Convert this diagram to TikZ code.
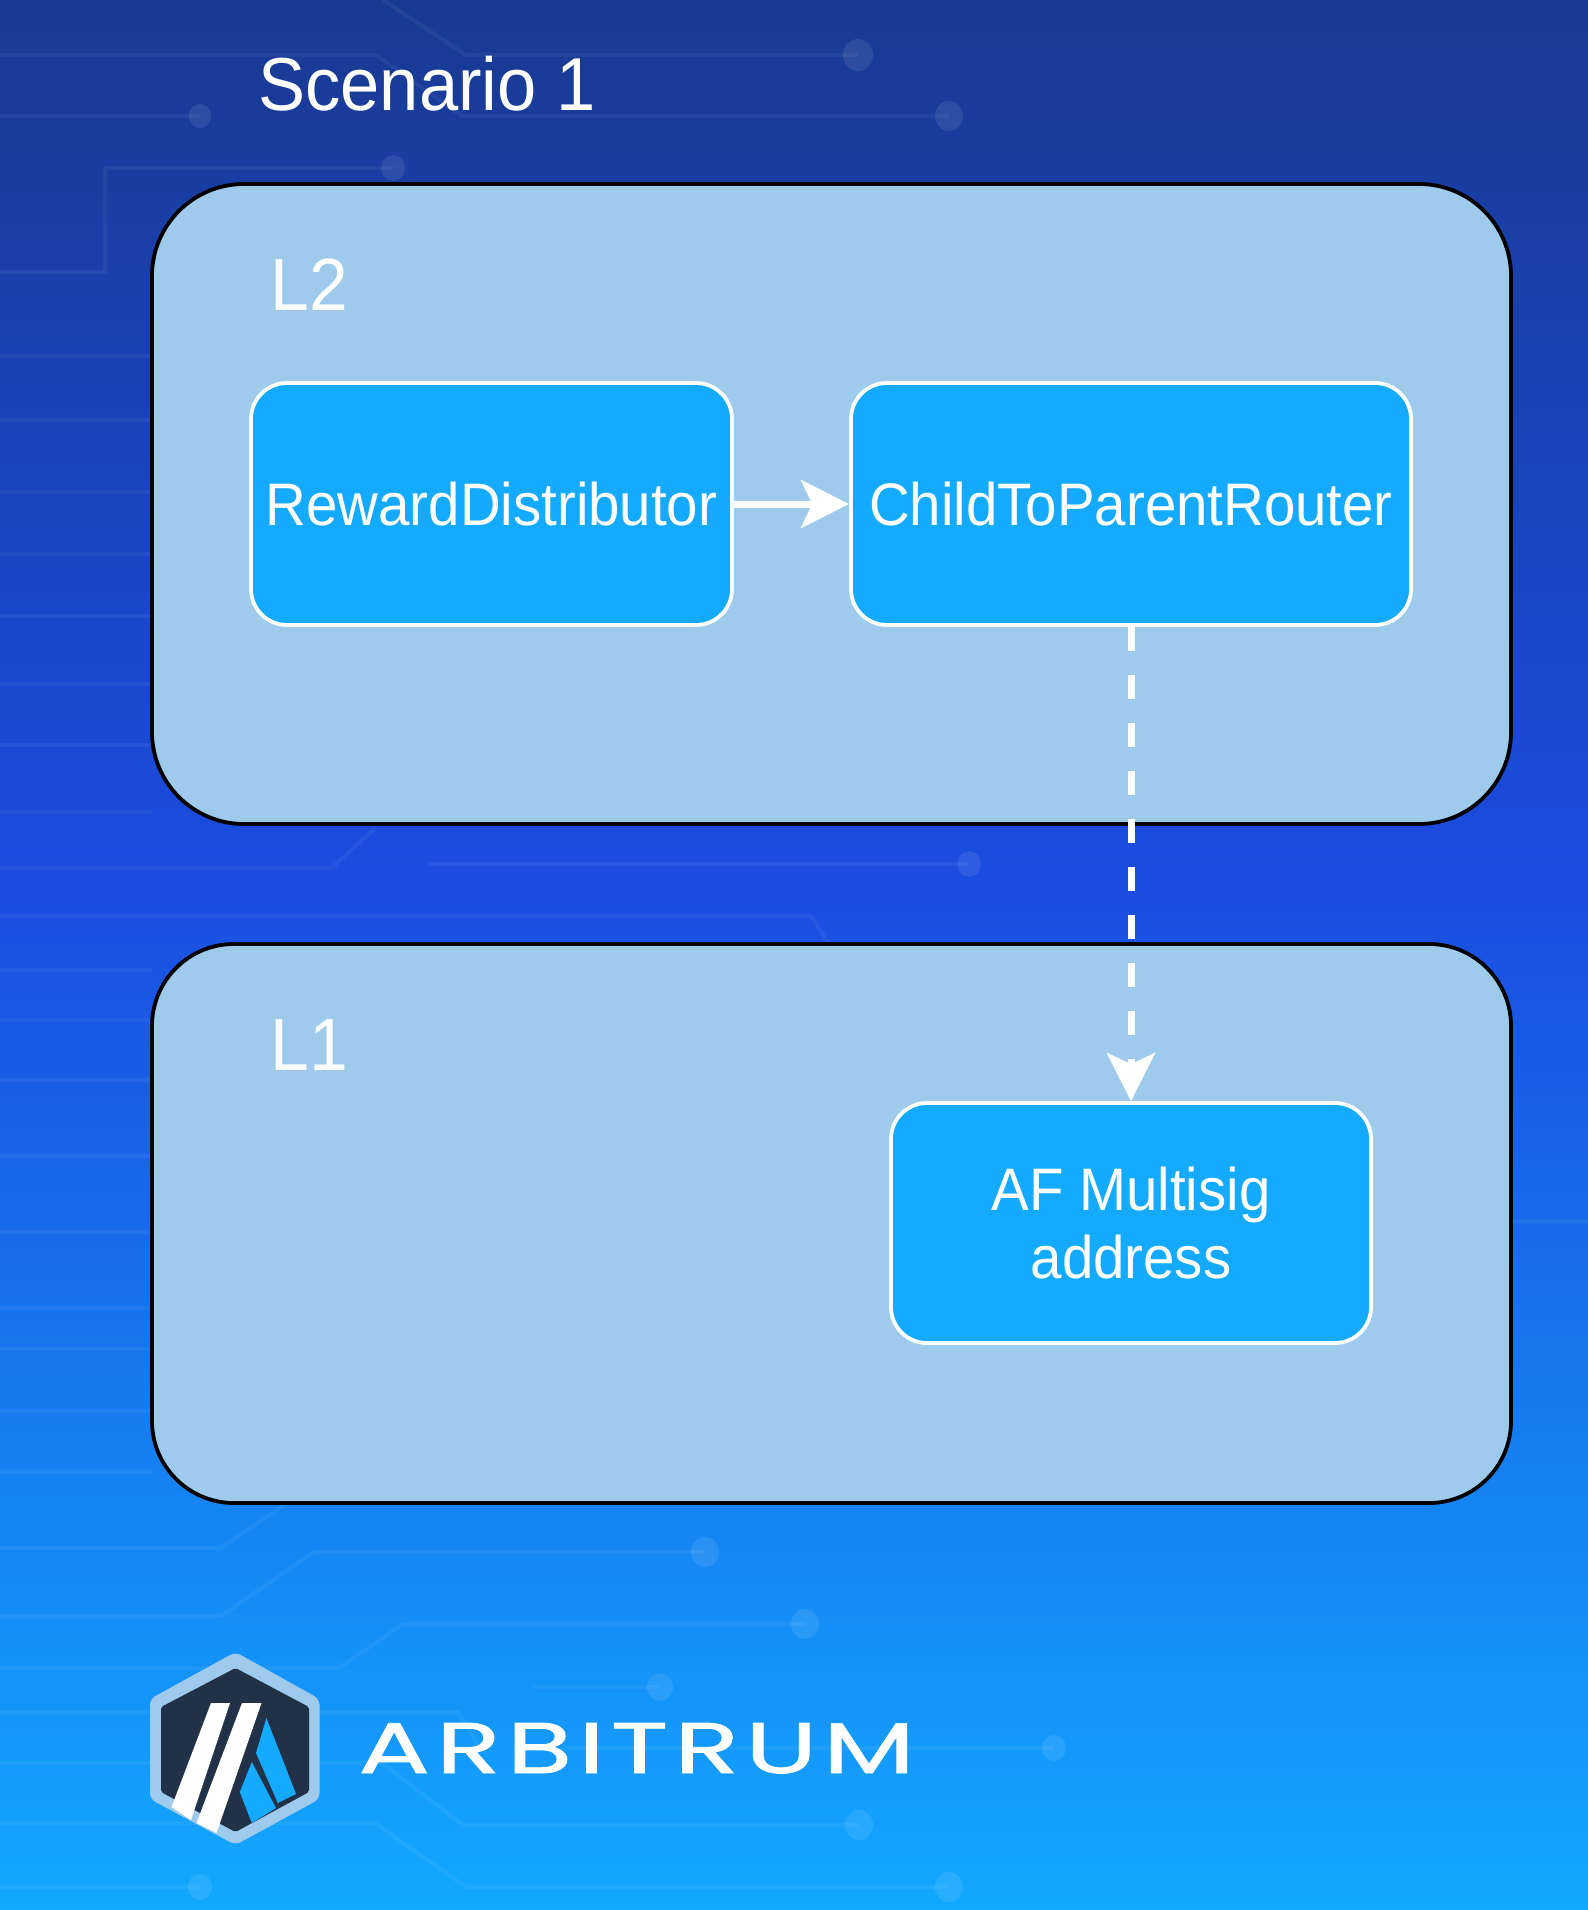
\documentclass[tikz,border=0pt]{standalone}
\usepackage{fontspec,graphicx}
\setmainfont{Liberation Sans}[FakeStretch=0.94]
\newfontfamily\logofont{Poppins}[LetterSpace=6,FakeBold=1]
\usetikzlibrary{arrows.meta}
\definecolor{panelblue}{HTML}{9ECBEC}
\definecolor{boxblue}{HTML}{14AAFF}
\definecolor{logonavy}{HTML}{213147}
\definecolor{skytop}{RGB}{25,58,146}
\definecolor{skymid}{RGB}{27,76,224}
\definecolor{skylow}{RGB}{18,168,255}
\pgfdeclareverticalshading{backdrop}{100bp}{
  color(0bp)=(skylow);
  color(25bp)=(skylow);
  color(52bp)=(skymid);
  color(75bp)=(skytop);
  color(100bp)=(skytop)}

\begin{document}
\begin{tikzpicture}[x=0.5pt,y=-0.5pt,
    trace/.style={white,opacity=0.05,line width=2pt,line join=round},
    pad/.style={white,opacity=0.09},
    panel/.style={draw=black,fill=panelblue,line width=1.9pt,rounded corners=#1},
    stepbox/.style={draw=white,fill=boxblue,line width=1.9pt,rounded corners=18pt,text=white,
      minimum height=#1,align=center,font=\fontsize{30}{34}\selectfont,inner sep=0pt},
    title/.style={text=white,inner sep=0pt,anchor=base west,font=\fontsize{#1}{#1}\selectfont},
    flow/.style={draw=white,line width=3.5pt,-{Stealth[length=24pt,width=24pt,inset=5.5pt]}}]
  \useasboundingbox (0,0) rectangle (1588,1910);
  \shade[shading=backdrop] (0,0) rectangle (1588,1910);

  % circuit traces
  \foreach \ypos in {356,420,492,554,616,684,745,812,970,1020,1080,1156,1232,1308,1349,1411,1472}
    \draw[trace] (0,\ypos) -- (152,\ypos);
  \draw[trace] (1510,1221) -- (1588,1221);
  \draw[trace] (0,55) -- (376,55) -- (462,116) -- (949,116);
  \draw[trace] (383,0) -- (466,55) -- (858,55);
  \draw[trace] (0,116) -- (200,116);
  \draw[trace] (0,272) -- (105,272) -- (105,168) -- (393,168);
  \draw[trace] (0,868) -- (332,868) -- (376,827);
  \draw[trace] (429,864) -- (969,864);
  \draw[trace] (0,916) -- (811,916) -- (829,944);
  \draw[trace] (0,1548) -- (221,1548) -- (284,1505);
  \draw[trace] (0,1616) -- (221,1616) -- (314,1552) -- (705,1552);
  \draw[trace] (0,1668) -- (339,1668) -- (403,1624) -- (805,1624);
  \draw[trace] (532,1687) -- (660,1687);
  \draw[trace] (0,1712) -- (458,1712) -- (478,1745);
  \draw[trace] (560,1748) -- (1054,1748);
  \draw[trace] (0,1763) -- (382,1763) -- (463,1825) -- (859,1825);
  \draw[trace] (0,1823) -- (375,1823) -- (466,1887) -- (949,1887);
  \draw[trace] (0,1887) -- (200,1887);
  \foreach \xpos/\ypos/\rad in {858/55/15,200/116/11,949/116/14,393/168/12,969/864/12,705/1552/14,
      805/1624/14,660/1687/13,1054/1748/12,859/1825/14,949/1887/14,200/1887/12}
    \fill[pad] (\xpos,\ypos) ellipse ({\rad} and {\rad+1});

  % layers
  \node[panel=46pt,minimum width=679.5pt,minimum height=320pt] (ltwo) at (831.5,504) {};
  \node[panel=41pt,minimum width=679.5pt,minimum height=279.5pt] (lone) at (831.5,1223.5) {};

  \node[title=37.5] (scenario) at (258,111) {Scenario 1};
  \node[title=37] (ltwolabel) at (270,310) {L2};
  \node[title=37] (lonelabel) at (270,1070) {L1};

  \node[stepbox=121pt,minimum width=240.5pt] (reward) at (491.5,504) {RewardDistributor};
  \node[stepbox=121pt,minimum width=280pt] (router) at (1131,504) {ChildToParentRouter};
  \node[stepbox=120pt,minimum width=240pt] (multisig) at (1131,1223) {AF Multisig\\address};

  \draw[flow] (reward) -- (router);
  \draw[flow,dash pattern=on 12pt off 12pt] (router) -- (multisig);

  % logo
  \fill[panelblue,rounded corners=3pt] (235.5,1652) -- (319.5,1699) -- (319.5,1799) -- (235.5,1845)
    -- (150,1799) -- (150,1699) -- cycle;
  \fill[logonavy,rounded corners=1pt] (235.5,1668) -- (309,1707) -- (309,1792) -- (235.5,1832)
    -- (161,1792) -- (161,1707) -- cycle;
  \fill[white] (211,1703) -- (230,1703) -- (191,1820) -- (171.5,1807) -- cycle;
  \fill[white] (242,1703) -- (261.5,1703) -- (216.5,1833) -- (196.5,1823) -- cycle;
  \fill[boxblue] (266.4,1718) -- (296,1794) -- (277.8,1803) -- (256,1753) -- cycle;
  \fill[boxblue] (251.8,1762) -- (276,1808) -- (251.8,1823) -- (239.8,1792) -- cycle;
  \node[inner sep=0pt,text=white,anchor=base west] (wordmark) at (358,1773)
    {\resizebox{278pt}{25pt}{\logofont ARBITRUM}};
\end{tikzpicture}
\end{document}
